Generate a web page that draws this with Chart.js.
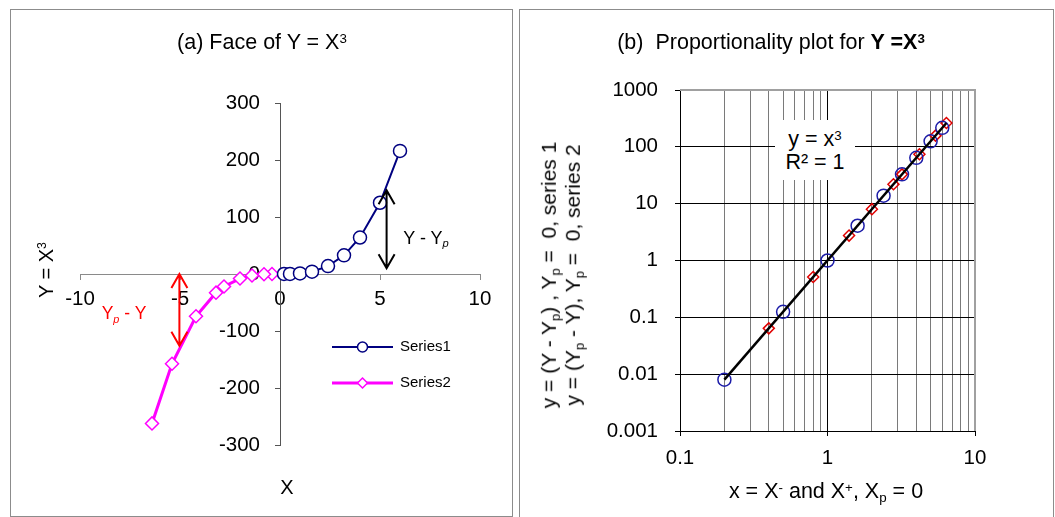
<!DOCTYPE html>
<html lang="en">
<head>
<meta charset="utf-8">
<title>Y = X^3</title>
<script src="https://cdn.jsdelivr.net/npm/chart.js"></script>
<style>
  body { margin: 0; width: 1055px; height: 517px; background: #fff; position: relative; overflow: hidden;
         font-family: "Liberation Sans", Arial, sans-serif; color: #000; }
  .panel { position: absolute; border: 1px solid #8c8c8c; box-sizing: border-box; }
  canvas { position: absolute; top: 0; }
  .txt { position: absolute; white-space: nowrap; line-height: 1; transform: translate(-50%, -50%); }
  .rot { transform: translate(-50%, -50%) rotate(-90deg); text-align: center; line-height: 1.15; }
  sup { font-size: 0.62em; vertical-align: 0.5em; line-height: 0; }
  sub { font-size: 0.62em; vertical-align: -0.3em; line-height: 0; }
  .fitbox { position: absolute; left: 775px; top: 120px; width: 80px; height: 60px; background: #fff; }
</style>
</head>
<body>
  <div class="panel" style="left:10px; top:9px; width:503px; height:508px"></div>
  <div class="panel" style="left:519px; top:9px; width:535px; height:520px"></div>

  <canvas id="face" width="517" height="517" style="left:0"></canvas>
  <canvas id="prop" width="538" height="517" style="left:517px"></canvas>

  <!-- panel (a) texts -->
  <div class="txt" style="left:262px; top:43px; font-size:21.5px">(a) Face of Y = X<sup>3</sup></div>
  <div class="txt rot" style="left:46px; top:270px; font-size:20px">Y = X<sup>3</sup></div>
  <div class="txt" style="left:287px; top:487px; font-size:20px">X</div>
  <div class="txt" style="left:426px; top:238px; font-size:18px">Y - Y<sub><i>p</i></sub></div>
  <div class="txt" style="left:124px; top:314px; font-size:17.5px; color:#ff0000">Y<sub><i>p</i></sub> - Y</div>

  <!-- panel (b) texts -->
  <div class="txt" style="left:771px; top:43px; font-size:21.5px">(b)&nbsp; Proportionality plot for <b>Y =X<sup>3</sup></b></div>
  <div class="fitbox"></div>
  <div class="txt" style="left:815px; top:140px; font-size:21.5px">y = x<sup>3</sup></div>
  <div class="txt" style="left:815px; top:163px; font-size:21.5px">R² = 1</div>
  <div class="txt rot" style="left:561px; top:275px; font-size:21px">y = (Y - Y<sub>p</sub>) , Y<sub>p</sub> = &nbsp;0, series 1<br>y = (Y<sub>p</sub> - Y), Y<sub>p</sub> = &nbsp;0, series 2</div>
  <div class="txt" style="left:826px; top:492px; font-size:21.5px">x = X<sup>-</sup> and X<sup>+</sup>, X<sub>p</sub> = 0</div>

<script>
// data
const s1X = [0.2, 0.5, 1, 1.6, 2.4, 3.2, 4, 5, 6];
const s1Y = [0.008, 0.125, 1, 4.096, 13.824, 32.768, 64, 125, 216];
const s2X = [-0.4, -0.8, -1.4, -2, -2.8, -3.2, -4.2, -5.4, -6.4];
const s2Y = [-0.064, -0.512, -2.744, -8, -21.952, -32.768, -74.088, -157.464, -262.144];
// power trendline of panel (b), over the data range
const fitX = [0.2, 6.4];
const fitY = [0.008, 262.144];

const faceXTicks = [-10, -5, 0, 5, 10];
const faceYTicks = [-300, -200, -100, 0, 100, 200, 300];
const logXDecades = [0.1, 1, 10];
const logYDecades = [0.001, 0.01, 0.1, 1, 10, 100, 1000];

const FONT = '"Liberation Sans", Arial, sans-serif';
const pts = (xs, ys) => xs.map((x, i) => ({x: x, y: ys[i]}));
const isDecade = v => Math.abs(Math.log10(v) - Math.round(Math.log10(v))) < 1e-6;

// minor ticks 1..9 inside every decade
const logXTicks = [];
for (let i = 0; i < logXDecades.length - 1; i++) {
  for (let k = 1; k <= 9; k++) logXTicks.push(k * logXDecades[i]);
}
logXTicks.push(logXDecades[logXDecades.length - 1]);

function drawArrow(ctx, px, top, bottom, color) {
  ctx.save();
  ctx.strokeStyle = color;
  ctx.lineWidth = 2;
  ctx.beginPath();
  ctx.moveTo(px, top); ctx.lineTo(px, bottom);
  ctx.moveTo(px - 8, top + 14); ctx.lineTo(px, top); ctx.lineTo(px + 8, top + 14);
  ctx.moveTo(px - 8, bottom - 14); ctx.lineTo(px, bottom); ctx.lineTo(px + 8, bottom - 14);
  ctx.stroke();
  ctx.restore();
}

function drawMarker(ctx, style, x, y, r, color, width) {
  ctx.save();
  ctx.beginPath();
  if (style === 'rectRot') {
    ctx.moveTo(x, y - r); ctx.lineTo(x + r, y); ctx.lineTo(x, y + r); ctx.lineTo(x - r, y); ctx.closePath();
  } else {
    ctx.arc(x, y, r, 0, Math.PI * 2);
  }
  ctx.fillStyle = '#fff';
  ctx.fill();
  ctx.strokeStyle = color;
  ctx.lineWidth = width;
  ctx.stroke();
  ctx.restore();
}

const faceExtras = {
  id: 'faceExtras',
  afterDatasetsDraw(chart) {
    const {ctx, scales: {x, y}} = chart;
    drawArrow(ctx, x.getPixelForValue(5.33), y.getPixelForValue(147), y.getPixelForValue(10), '#000');
    drawArrow(ctx, x.getPixelForValue(-5.03), y.getPixelForValue(0), y.getPixelForValue(-126), '#ff0000');

    // legend with line + marker
    chart.data.datasets.forEach((ds, i) => {
      const ly = 347 + i * 36;
      ctx.save();
      ctx.strokeStyle = ds.borderColor;
      ctx.lineWidth = ds.borderWidth;
      ctx.beginPath(); ctx.moveTo(332, ly); ctx.lineTo(393, ly); ctx.stroke();
      ctx.restore();
      drawMarker(ctx, ds.pointStyle, 362.5, ly, 5, ds.pointBorderColor, 1.5);
      ctx.save();
      ctx.fillStyle = '#000';
      ctx.font = '15px ' + FONT;
      ctx.textBaseline = 'middle';
      ctx.fillText(ds.label, 400, ly);
      ctx.restore();
    });
  }
};

new Chart(document.getElementById('face'), {
  type: 'scatter',
  data: {
    datasets: [{
      label: 'Series1',
      data: pts(s1X, s1Y),
      showLine: true,
      borderColor: '#000080',
      borderWidth: 2,
      pointStyle: 'circle',
      pointRadius: 6.5,
      pointBorderColor: '#000080',
      pointBackgroundColor: '#fff',
      pointBorderWidth: 1.5
    }, {
      label: 'Series2',
      data: pts(s2X, s2Y),
      showLine: true,
      borderColor: '#ff00ff',
      borderWidth: 3,
      pointStyle: 'rectRot',
      pointRadius: 6.5,
      pointBorderColor: '#ff00ff',
      pointBackgroundColor: '#fff',
      pointBorderWidth: 1.5
    }]
  },
  options: {
    responsive: false,
    animation: false,
    devicePixelRatio: 1,
    events: [],
    layout: {padding: {left: 80, right: 37, top: 103, bottom: 72}},
    plugins: {legend: {display: false}, tooltip: {enabled: false}},
    scales: {
      x: {
        type: 'linear', min: -10, max: 10, position: 'center',
        afterBuildTicks: a => { a.ticks = faceXTicks.map(v => ({value: v})); },
        afterFit: s => { s.height = 0; },
        ticks: {font: {size: 20.5, family: FONT}, color: '#000', padding: 8, maxRotation: 0},
        grid: {drawOnChartArea: false, tickLength: 5, color: '#8a8a8a'},
        border: {color: '#8a8a8a', width: 1}
      },
      y: {
        type: 'linear', min: -300, max: 300, position: 'center',
        afterBuildTicks: a => { a.ticks = faceYTicks.map(v => ({value: v})); },
        afterFit: s => { s.width = 0; },
        ticks: {font: {size: 20.5, family: FONT}, color: '#000', padding: 15},
        grid: {drawOnChartArea: false, tickLength: 5, color: '#555'},
        border: {color: '#555', width: 1}
      }
    }
  },
  plugins: [faceExtras]
});

const propFrame = {
  id: 'propFrame',
  beforeDatasetsDraw(chart) {
    const {ctx, chartArea: a} = chart;
    ctx.save();
    ctx.strokeStyle = '#a0a0a0';
    ctx.lineWidth = 2;
    ctx.beginPath();
    ctx.moveTo(a.left, a.top); ctx.lineTo(a.right, a.top); ctx.lineTo(a.right, a.bottom);
    ctx.stroke();
    ctx.restore();
  }
};

new Chart(document.getElementById('prop'), {
  type: 'scatter',
  data: {
    datasets: [{
      label: 'Power (fit)',
      data: pts(fitX, fitY),
      showLine: true,
      borderColor: '#000',
      borderWidth: 2.5,
      pointRadius: 0
    }, {
      label: 'Series1',
      data: pts(s1X, s1Y),
      pointStyle: 'circle',
      pointRadius: 6.5,
      pointBorderColor: '#1c1ca8',
      pointBackgroundColor: 'rgba(0,0,0,0)',
      pointBorderWidth: 1.5
    }, {
      label: 'Series2',
      data: pts(s2X.map(Math.abs), s2Y.map(Math.abs)),
      pointStyle: 'rectRot',
      pointRadius: 5.5,
      pointBorderColor: '#e00000',
      pointBackgroundColor: 'rgba(0,0,0,0)',
      pointBorderWidth: 1.5
    }]
  },
  options: {
    responsive: false,
    animation: false,
    devicePixelRatio: 1,
    events: [],
    layout: {padding: {left: 0, right: 80, top: 90, bottom: 26}},
    plugins: {legend: {display: false}, tooltip: {enabled: false}},
    scales: {
      x: {
        type: 'logarithmic', min: 0.1, max: 10,
        afterBuildTicks: a => { a.ticks = logXTicks.map(v => ({value: v})); },
        afterFit: s => { s.height = 60; },
        ticks: {autoSkip: false, maxRotation: 0, font: {size: 20.5, family: FONT}, color: '#000', padding: 10,
                callback: v => logXDecades.some(d => Math.abs(d - v) < 1e-9) ? String(v) : ''},
        grid: {
          tickLength: 5,
          color: c => isDecade(c.tick.value) ? '#000' : '#7a7a7a',
          tickColor: c => isDecade(c.tick.value) ? '#000' : 'rgba(0,0,0,0)'
        },
        border: {color: '#000', width: 1}
      },
      y: {
        type: 'logarithmic', min: 0.001, max: 1000,
        afterBuildTicks: a => { a.ticks = logYDecades.map(v => ({value: v})); },
        afterFit: s => { s.width = 163; },
        ticks: {autoSkip: false, font: {size: 20.5, family: FONT}, color: '#000', padding: 17,
                callback: v => String(v)},
        grid: {tickLength: 5, color: '#000'},
        border: {color: '#000', width: 1}
      }
    }
  },
  plugins: [propFrame]
});
</script>
</body>
</html>
